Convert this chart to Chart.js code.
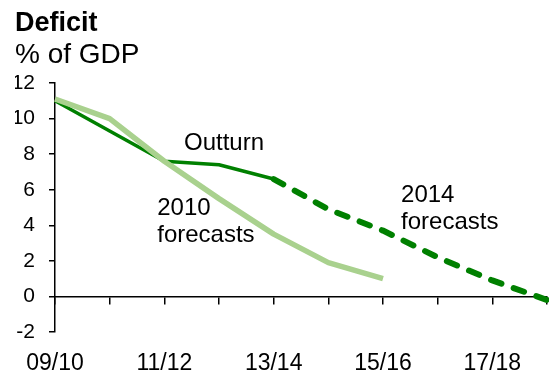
<!DOCTYPE html>
<html>
<head>
<meta charset="utf-8">
<script src="https://cdn.jsdelivr.net/npm/chart.js@4/dist/chart.umd.min.js"></script>
<style>
  html, body { margin: 0; padding: 0; background: #fff; }
  #wrap { width: 549px; height: 377px; position: relative; }
</style>
</head>
<body>
<div id="wrap"><canvas id="deficitChart"></canvas></div>
<script>
// Fiscal years on the x axis
const years = ['09/10', '10/11', '11/12', '12/13', '13/14', '14/15', '15/16', '16/17', '17/18', '18/19'];

// Deficit, % of GDP
const outturn = [11.0, 9.3, 7.6, 7.4, 6.6, null, null, null, null, null];
const forecasts2010 = [11.1, 10.0, 7.6, 5.5, 3.5, 1.9, 1.0, null, null, null];
const forecasts2014 = [null, null, null, null, 6.6, 4.9, 3.7, 2.2, 0.9, -0.2];

// y axis ticks
const yTicks = [-2, 0, 2, 4, 6, 8, 10, 12];

// Series labels written on the plot: [text lines, x (year index), y (% of GDP) of first baseline]
const seriesLabels = [
    [['Outturn'], 2.36, 8.23],
    [['2010', 'forecasts'], 1.87, 4.58],
    [['2014', 'forecasts'], 6.33, 5.31],
];

const FONT = "'Liberation Sans', Arial, Helvetica, sans-serif";
const darkGreen = '#008000';
const lightGreen = '#a9d18e';

// Draws the text labels next to the lines
const seriesLabelPlugin = {
    id: 'seriesLabels',
    afterDatasetsDraw(chart) {
        const ctx = chart.ctx;
        const xs = chart.scales.x;
        const ys = chart.scales.y;
        const lineGap = ys.getPixelForValue(0) - ys.getPixelForValue(1.52);
        ctx.save();
        ctx.font = '24px ' + FONT;
        ctx.fillStyle = '#000';
        ctx.textAlign = 'left';
        ctx.textBaseline = 'alphabetic';
        seriesLabels.forEach(([lines, xi, yv]) => {
            const x = xs.getPixelForValue(xi);
            const y = ys.getPixelForValue(yv);
            lines.forEach((t, i) => ctx.fillText(t, x, y + i * lineGap));
        });
        ctx.restore();
    }
};

const ctx = document.getElementById('deficitChart').getContext('2d');

new Chart(ctx, {
    type: 'line',
    data: {
        labels: years,
        datasets: [
            {
                label: '2010 forecasts',
                data: forecasts2010,
                borderColor: lightGreen,
                borderWidth: 5.5,
                borderJoinStyle: 'round',
                pointRadius: 0,
            },
            {
                label: 'Outturn',
                data: outturn,
                borderColor: darkGreen,
                borderWidth: 3.5,
                borderJoinStyle: 'round',
                pointRadius: 0,
            },
            {
                label: '2014 forecasts',
                data: forecasts2014,
                borderColor: darkGreen,
                borderWidth: 6,
                borderDash: [11, 13],
                borderCapStyle: 'round',
                pointRadius: 0,
            }
        ]
    },
    options: {
        responsive: true,
        maintainAspectRatio: false,
        animation: false,
        events: [],
        layout: {
            padding: { left: 15, right: 2, top: 0, bottom: 0 }
        },
        elements: {
            line: { tension: 0 }
        },
        plugins: {
            legend: { display: false },
            tooltip: { enabled: false },
            title: {
                display: true,
                text: 'Deficit',
                align: 'start',
                color: '#000',
                font: { family: FONT, size: 27, weight: 'bold', lineHeight: 1.2 },
                padding: { top: 7.3, bottom: 0 }
            },
            subtitle: {
                display: true,
                text: '% of GDP',
                align: 'start',
                color: '#000',
                font: { family: FONT, size: 28, weight: 'normal', lineHeight: 1.1 },
                padding: { top: 0, bottom: 12.5 }
            }
        },
        scales: {
            // axis line drawn through zero, with tick marks only
            x: {
                type: 'category',
                position: { y: 0 },
                offset: false,
                ticks: { display: false, autoSkip: false },
                grid: {
                    drawOnChartArea: false,
                    drawTicks: true,
                    tickLength: 7,
                    color: '#000',
                    lineWidth: 1.5
                },
                border: { color: '#000', width: 1.5 }
            },
            // year labels along the bottom
            x2: {
                type: 'category',
                position: 'bottom',
                offset: false,
                grid: { display: false },
                border: { display: false },
                ticks: {
                    autoSkip: false,
                    maxRotation: 0,
                    padding: 10,
                    color: '#000',
                    font: { family: FONT, size: 23 },
                    callback: function (value, index) {
                        return index % 2 === 0 ? years[index] : '';
                    }
                },
                afterFit: function (scale) {
                    scale.height = 45;
                    scale.paddingLeft = 0;
                    scale.paddingRight = 0;
                }
            },
            y: {
                position: 'left',
                min: yTicks[0],
                max: yTicks[yTicks.length - 1],
                afterBuildTicks: function (scale) {
                    scale.ticks = yTicks.map(v => ({ value: v }));
                },
                grid: {
                    drawOnChartArea: false,
                    drawTicks: true,
                    tickLength: 6,
                    color: '#000',
                    lineWidth: 1.5
                },
                border: { color: '#000', width: 1.5 },
                ticks: {
                    padding: 14,
                    color: '#000',
                    font: { family: FONT, size: 21 }
                },
                afterFit: function (scale) { scale.width = 40; }
            }
        }
    },
    plugins: [seriesLabelPlugin]
});
</script>
</body>
</html>
